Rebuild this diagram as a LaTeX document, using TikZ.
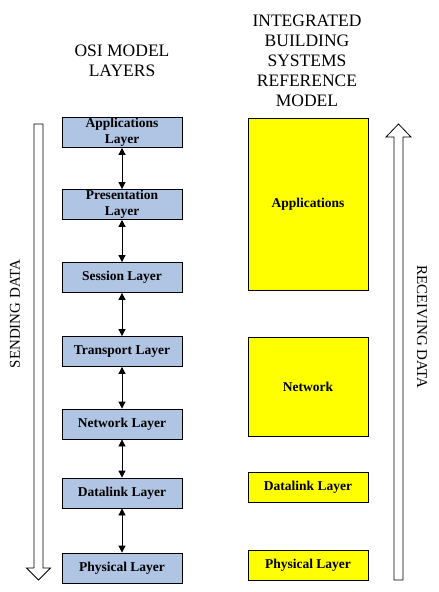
\documentclass[tikz,border=0pt]{standalone}
\usepackage{fontspec}
\setmainfont{Liberation Serif}
\usepackage{tikz}
\usetikzlibrary{positioning}
\usetikzlibrary{arrows.meta}
\definecolor{osiblue}{RGB}{176,196,228}
\definecolor{ibsyellow}{RGB}{255,255,0}
\tikzset{%
  linkarrow/.style = {{Triangle[length=7pt,width=7pt]}-{Triangle[length=7pt,width=7pt]},line width=0.8pt},
  osibox/.style = {rectangle,draw,fill=osiblue,line width=0.8pt,minimum width=120pt,
        minimum height=30pt,inner sep=0pt,align=center,
        font=\fontsize{13.5}{15.5}\selectfont\bfseries},
  ibsbox/.style = {rectangle,draw,fill=ibsyellow,line width=0.8pt,minimum width=120pt,
        minimum height=30pt,inner sep=0pt,align=center,
        font=\fontsize{13.5}{15.5}\selectfont\bfseries},
  heading/.style = {align=center,font=\fontsize{17.5}{20}\selectfont},
  sidelabel/.style = {font=\fontsize{15}{18}\selectfont},
  bigarrow/.style = {draw,fill=white,line width=0.8pt}
}
\begin{document}
\begin{tikzpicture}[x=1pt,y=-1pt,on grid]
                \useasboundingbox (0,0) rectangle (439,592);
                % headings
                \node[heading] (osihead) at (122,60.5) {OSI MODEL\\LAYERS};
                \node[heading] (ibshead) at (307,60.5) {INTEGRATED\\BUILDING\\SYSTEMS\\REFERENCE\\MODEL};
                % OSI layers
                \node[osibox] (osiapp) at (122,132.5) {Applications\\Layer};
                \node[osibox] (osipres) [below=72pt of osiapp] {Presentation\\Layer};
                \node[osibox] (osisess) [below=73pt of osipres] {Session Layer};
                \node[osibox] (ositrans) [below=74pt of osisess] {Transport Layer};
                \node[osibox] (osinet) [below=72.5pt of ositrans] {Network Layer};
                \node[osibox] (osidata) [below=69pt of osinet] {Datalink Layer};
                \node[osibox] (osiphys) [below=75pt of osidata] {Physical Layer};
                \path[linkarrow] (osiapp) edge (osipres)
                          (osipres) edge (osisess)
                          (osisess) edge (ositrans)
                          (ositrans) edge (osinet)
                          (osinet) edge (osidata)
                          (osidata) edge (osiphys);
                % IBS reference model
                \node[ibsbox, minimum height=172pt] (ibsapp) at (308,204) {Applications};
                \node[ibsbox, minimum height=99pt] (ibsnet) [below=182.5pt of ibsapp] {Network};
                \node[ibsbox] (ibsdata) [below=100.5pt of ibsnet] {Datalink Layer};
                \node[ibsbox] (ibsphys) [below=78pt of ibsdata] {Physical Layer};
                % data flow arrows
                \draw[bigarrow] (34,124) -- (43,124) -- (43,568) -- (50.5,568) -- (38.5,580)
                      -- (26.5,568) -- (34,568) -- cycle;
                \draw[bigarrow] (394,580) -- (403,580) -- (403,137) -- (411,137) -- (398.5,124)
                      -- (386,137) -- (394,137) -- cycle;
                \node[sidelabel, rotate=90] (sending) at (15,314) {SENDING DATA};
                \node[sidelabel, rotate=-90] (receiving) at (422,327) {RECEIVING DATA};
            \end{tikzpicture}
\end{document}
